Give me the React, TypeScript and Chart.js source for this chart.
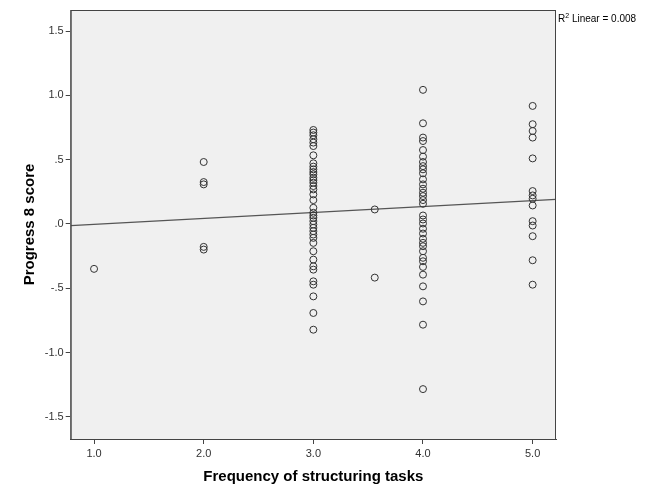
import React, { useEffect, useRef } from "react";
import { Chart, registerables } from "chart.js";

Chart.register(...registerables);

const x1Values = [-0.349];
const x2Values = [0.482, 0.326, 0.308, -0.178, -0.199];
const x3Values = [
  0.731, 0.711, 0.69, 0.659, 0.633, 0.606, 0.534, 0.472, 0.446, 0.425, 0.404, 0.386,
  0.36, 0.341, 0.321, 0.295, 0.269, 0.23, 0.186, 0.126, 0.087, 0.066, 0.048, 0.022,
  -0.004, -0.03, -0.056, -0.082, -0.108, -0.147, -0.212, -0.277, -0.329, -0.355,
  -0.446, -0.472, -0.563, -0.692, -0.822,
];
const x357Values = [0.113, -0.417];
const x4Values = [
  1.043, 0.783, 0.672, 0.645, 0.575, 0.524, 0.482, 0.45, 0.425, 0.394, 0.347, 0.308,
  0.274, 0.243, 0.217, 0.186, 0.157, 0.066, 0.035, 0.004, -0.037, -0.074, -0.115,
  -0.147, -0.173, -0.212, -0.263, -0.29, -0.334, -0.394, -0.485, -0.602, -0.783, -1.284,
];
const x5Values = [
  0.918, 0.776, 0.723, 0.672, 0.51, 0.256, 0.222, 0.196, 0.144, 0.022, -0.012, -0.095,
  -0.282, -0.472,
];
const groupX = [1, 2, 3, 3.56, 4, 5];

const fitX = [0.787, 5.213];
const fitY = [-0.012, 0.191];

const xTicks = [1, 2, 3, 4, 5];
const xTickLabels = ["1.0", "2.0", "3.0", "4.0", "5.0"];
const yTicks = [1.5, 1.0, 0.5, 0.0, -0.5, -1.0, -1.5];
const yTickLabels = ["1.5", "1.0", ".5", ".0", "-.5", "-1.0", "-1.5"];

const xTitle = "Frequency of structuring tasks";
const yTitle = "Progress 8 score";
const r2Text = "Linear = 0.008";

const FONT = "'Liberation Sans', Arial, sans-serif";

export default function App() {
  const ref = useRef<HTMLCanvasElement>(null);

  useEffect(() => {
    if (!ref.current) return;
    const groups = [x1Values, x2Values, x3Values, x357Values, x4Values, x5Values];
    const points: { x: number; y: number }[] = [];
    groups.forEach((vals, i) => vals.forEach((v) => points.push({ x: groupX[i], y: v })));

    const framePlugin = {
      id: "frame",
      beforeDatasetsDraw(chart: any) {
        const { ctx, chartArea: a } = chart;
        ctx.save();
        ctx.fillStyle = "#f0f0f0";
        ctx.fillRect(a.left, a.top, a.right - a.left, a.bottom - a.top);
        ctx.restore();
      },
      afterDatasetsDraw(chart: any) {
        const { ctx, chartArea: a } = chart;
        ctx.save();
        ctx.strokeStyle = "#444";
        ctx.lineWidth = 1;
        ctx.strokeRect(a.left + 0.5, a.top + 0.5, a.right - a.left - 1, a.bottom - a.top);
        ctx.fillStyle = "#000";
        ctx.textBaseline = "alphabetic";
        ctx.textAlign = "left";
        ctx.font = `10px ${FONT}`;
        const x0 = a.right + 2;
        const y0 = a.top + 12;
        ctx.fillText("R", x0, y0);
        const rw = ctx.measureText("R").width;
        ctx.font = `7px ${FONT}`;
        ctx.fillText("2", x0 + rw, y0 - 4);
        const sw = ctx.measureText("2").width;
        ctx.font = `10px ${FONT}`;
        ctx.fillText(" " + r2Text, x0 + rw + sw, y0);
        ctx.restore();
      },
    };

    const chart = new Chart(ref.current, {
      type: "scatter",
      data: {
        datasets: [
          {
            data: points,
            pointRadius: 3.5,
            pointBorderWidth: 1,
            borderColor: "#333",
            backgroundColor: "rgba(0,0,0,0)",
            pointBackgroundColor: "rgba(0,0,0,0)",
            pointBorderColor: "#333",
          },
          {
            data: fitX.map((x, i) => ({ x, y: fitY[i] })),
            showLine: true,
            pointRadius: 0,
            borderColor: "#555",
            borderWidth: 1.3,
          },
        ],
      },
      plugins: [framePlugin],
      options: {
        animation: false,
        responsive: false,
        layout: { padding: { left: 0, right: 105, top: 10, bottom: 0 } },
        plugins: { legend: { display: false }, tooltip: { enabled: false } },
        scales: {
          x: {
            type: "linear",
            min: 0.787,
            max: 5.213,
            afterBuildTicks: (s: any) => {
              s.ticks = xTicks.map((v) => ({ value: v }));
            },
            afterFit: (s: any) => {
              s.height = 51;
            },
            ticks: {
              color: "#333",
              font: { family: FONT, size: 11 },
              padding: 3,
              maxRotation: 0,
              callback: (v: any) => xTickLabels[xTicks.indexOf(Number(v))] ?? "",
            },
            grid: { drawOnChartArea: false, drawTicks: true, tickLength: 5, color: "#444" },
            border: { display: true, color: "#444" },
            title: {
              display: true,
              text: xTitle,
              color: "#000",
              font: { family: FONT, size: 15, weight: "bold" },
              padding: { top: 0, bottom: 4 },
            },
          },
          y: {
            type: "linear",
            min: -1.672,
            max: 1.664,
            afterBuildTicks: (s: any) => {
              s.ticks = yTicks.map((v) => ({ value: v }));
            },
            afterFit: (s: any) => {
              s.width = 70.7;
            },
            ticks: {
              color: "#333",
              font: { family: FONT, size: 11 },
              padding: 2,
              callback: (v: any) => {
                const i = yTicks.findIndex((t) => Math.abs(t - Number(v)) < 1e-6);
                return i >= 0 ? yTickLabels[i] : "";
              },
            },
            grid: { drawOnChartArea: false, drawTicks: true, tickLength: 5, color: "#444" },
            border: { display: true, color: "#444" },
            title: {
              display: true,
              text: yTitle,
              color: "#000",
              font: { family: FONT, size: 15, weight: "bold" },
              padding: { top: 21, bottom: 0 },
            },
          },
        },
      },
    });
    return () => chart.destroy();
  }, []);

  return (
    <div style={{ position: "fixed", left: 0, top: 0, width: 661, height: 490, background: "#fff" }}>
      <canvas ref={ref} width={661} height={490} style={{ width: 661, height: 490 }} />
    </div>
  );
}
